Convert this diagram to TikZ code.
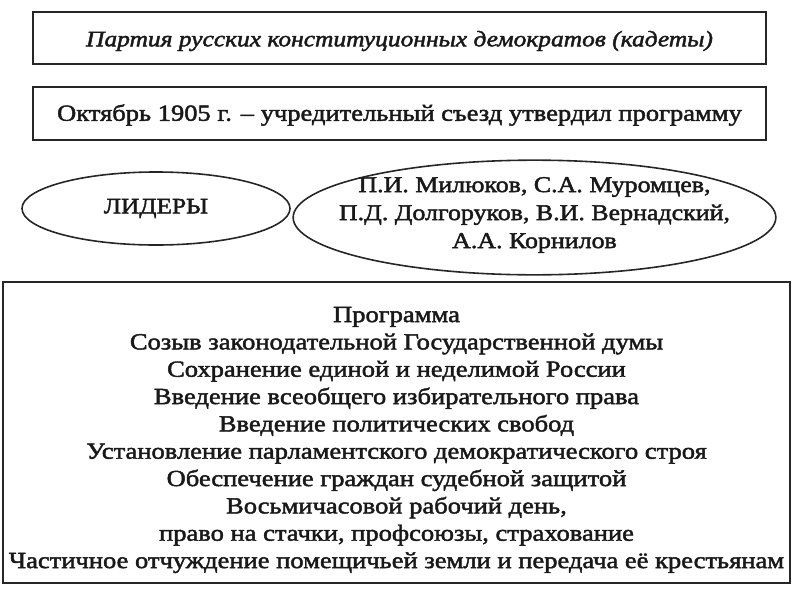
\documentclass[tikz,border=0pt]{standalone}
\usepackage{fontspec}
\setmainfont{Liberation Serif}[FakeStretch=1.15, FakeBold=2]
\usepackage{tikz}
\usetikzlibrary{shapes.geometric}

\tikzset{
  framebox/.style={draw=black!85, line width=1.2pt, inner sep=0pt},
  oval/.style={ellipse, draw=black!85, line width=1.2pt, inner sep=0pt},
  bodytext/.style={font=\fontsize{17.3}{20.5}\selectfont, align=center, inner sep=0pt, text=black!90}
}

\begin{document}
\begin{tikzpicture}[x=0.75pt, y=-0.75pt]
\useasboundingbox (0,0) rectangle (800,600);

% Title of the party
\node[framebox, minimum width=549.75pt, minimum height=39pt] (party) at (399.5,38) {};
\node[bodytext, font=\fontsize{16.6}{20.5}\selectfont\itshape] (partytext) at (399.5,41) {Партия русских конституционных демократов (кадеты)};

% Founding congress
\node[framebox, minimum width=549.75pt, minimum height=39.75pt] (congress) at (399.5,113.5) {};
\node[bodytext] (congresstext) at (399.5,115) {Октябрь 1905 г. – учредительный съезд утвердил программу};

% Leaders
\node[oval, minimum width=201pt, minimum height=54.75pt] (leaders) at (156,208.5) {};
\node[bodytext, font=\fontsize{16.5}{20.5}\selectfont] (leaderstext) at (156,208.5) {ЛИДЕРЫ};
\node[oval, minimum width=362pt, minimum height=86pt] (names) at (534.5,217.5) {};
\node[bodytext, font=\fontsize{16.9}{21}\selectfont] (namestext) at (534.5,215) {П.И. Милюков, С.А. Муромцев,\\
  П.Д. Долгоруков, В.И. Вернадский,\\
  А.А. Корнилов};

% Programme
\node[framebox, minimum width=590.25pt, minimum height=225.75pt] (program) at (396.5,432.5) {};
\node[bodytext] (programtext) at (396.5,440) {Программа\\
  Созыв законодательной Государственной думы\\
  Сохранение единой и неделимой России\\
  Введение всеобщего избирательного права\\
  Введение политических свобод\\
  Установление парламентского демократического строя\\
  Обеспечение граждан судебной защитой\\
  Восьмичасовой рабочий день,\\
  право на стачки, профсоюзы, страхование\\
  Частичное отчуждение помещичьей земли и передача её крестьянам};

\end{tikzpicture}
\end{document}
